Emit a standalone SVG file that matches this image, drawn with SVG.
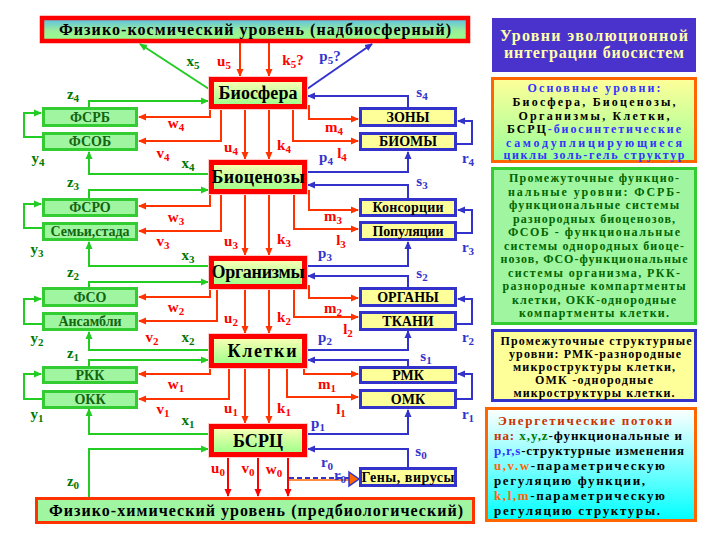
<svg xmlns="http://www.w3.org/2000/svg" width="720" height="540" viewBox="0 0 720 540">
<defs>
<linearGradient id="gLv" x1="0" y1="0" x2="0" y2="1"><stop offset="0" stop-color="#ffffb8"/><stop offset="1" stop-color="#99ff88"/></linearGradient>
<linearGradient id="gTop" x1="0" y1="0" x2="0" y2="1"><stop offset="0" stop-color="#55bbee"/><stop offset="0.55" stop-color="#99ee99"/><stop offset="1" stop-color="#99ff88"/></linearGradient>
<linearGradient id="gL2" x1="0" y1="0" x2="0" y2="1"><stop offset="0" stop-color="#ffff99"/><stop offset="1" stop-color="#99ff99"/></linearGradient>
<linearGradient id="gL5" x1="0" y1="0" x2="0" y2="1"><stop offset="0" stop-color="#ffffff"/><stop offset="1" stop-color="#00ffff"/></linearGradient>
<marker id="ag" markerUnits="userSpaceOnUse" markerWidth="8" markerHeight="8" refX="7" refY="4" orient="auto"><path d="M0,0.5 L8,4 L0,7.5 z" fill="#22cc22"/></marker>
<marker id="ar" markerUnits="userSpaceOnUse" markerWidth="8" markerHeight="8" refX="7" refY="4" orient="auto"><path d="M0,0.5 L8,4 L0,7.5 z" fill="#ff3300"/></marker>
<marker id="ar2" markerUnits="userSpaceOnUse" markerWidth="8" markerHeight="8" refX="7" refY="4" orient="auto"><path d="M0,0.5 L8,4 L0,7.5 z" fill="#ff0000"/></marker>
<marker id="ab" markerUnits="userSpaceOnUse" markerWidth="8" markerHeight="8" refX="7" refY="4" orient="auto"><path d="M0,0.5 L8,4 L0,7.5 z" fill="#3333cc"/></marker>
</defs>
<style>
text{font-family:"Liberation Serif","Times New Roman",serif;font-weight:bold}
.halo{fill:none;stroke:#ffcccc;stroke-width:7}
.lv{fill:url(#gLv);stroke:#ff0000;stroke-width:5}
.lvt{font-size:18px;text-anchor:middle;fill:#000}
.gb{fill:#a0f5a0;stroke:#33cc33;stroke-width:3}
.gt{font-size:14px;text-anchor:middle;fill:#116611}
.bb{fill:#ffff99;stroke:#3333cc;stroke-width:3}
.bt{font-size:14px;text-anchor:middle;fill:#000}
.cg{fill:none;stroke:#22cc22;stroke-width:2;marker-end:url(#ag)}
.cr{fill:none;stroke:#ff3300;stroke-width:2;marker-end:url(#ar)}
.cr2{fill:none;stroke:#ff0000;stroke-width:2;marker-end:url(#ar2)}
.cb{fill:none;stroke:#3333cc;stroke-width:2;marker-end:url(#ab)}
.lg,.lr,.lb{font-size:15px;text-anchor:middle}
.lg{fill:#007700}.lr{fill:#ff0000}.lb{fill:#3333cc}
.s{font-size:11px}
.leg{font-size:12px;text-anchor:middle}
.leg2{font-size:12px;text-anchor:middle}
.leg5{font-size:13px}
</style>
<rect width="720" height="540" fill="#ffffff"/>

<g id="connectors">
<path class="cg" d="M209,89 L140,44"/>
<path class="cb" d="M307,89 L372,44"/>
<path class="cr" d="M240,43 V76"/>
<path class="cr" d="M269,43 V76"/>
<!-- level 4 -->
<path class="cg" d="M89,107 V101 H208"/>
<path class="cr" d="M210,109 V117 H139"/>
<path class="cr" d="M221,109 V141 H139"/>
<path class="cg" d="M42,137 H24 V113 H41"/>
<path class="cg" d="M209,174 H89 V152"/>
<path class="cr" d="M309,105 V119 H358"/>
<path class="cr" d="M293,109 V141 H358"/>
<path class="cb" d="M408,107 V96 H308"/>
<path class="cb" d="M457,144 H472 V121 H458"/>
<path class="cb" d="M307,172 H408 V152"/>
<path class="cr" d="M245,109 V159"/>
<path class="cr" d="M269,109 V159"/>
<!-- level 3 -->
<path class="cg" d="M89,198 V190 H208"/>
<path class="cr" d="M210,194 V206 H139"/>
<path class="cr" d="M221,194 V231 H139"/>
<path class="cg" d="M42,228 H24 V204 H41"/>
<path class="cg" d="M209,266 H89 V242"/>
<path class="cr" d="M309,190 V210 H358"/>
<path class="cr" d="M294,194 V229 H358"/>
<path class="cb" d="M408,198 V185 H308"/>
<path class="cb" d="M457,233 H472 V210 H458"/>
<path class="cb" d="M307,266 H408 V242"/>
<path class="cr" d="M245,194 V255"/>
<path class="cr" d="M269,194 V255"/>
<!-- level 2 -->
<path class="cg" d="M89,287 V282 H208"/>
<path class="cr" d="M210,289 V297 H139"/>
<path class="cr" d="M217,289 V321 H139"/>
<path class="cg" d="M42,324 H24 V299 H41"/>
<path class="cg" d="M209,350 H89 V332"/>
<path class="cr" d="M309,285 V298 H358"/>
<path class="cr" d="M294,289 V317 H358"/>
<path class="cb" d="M408,287 V276 H308"/>
<path class="cb" d="M457,324 H472 V299 H458"/>
<path class="cb" d="M307,350 H408 V331"/>
<path class="cr" d="M245,289 V333"/>
<path class="cr" d="M269,289 V333"/>
<!-- level 1 -->
<path class="cg" d="M89,366 V360 H208"/>
<path class="cr" d="M210,368 V374 H139"/>
<path class="cr" d="M229,368 V399 H139"/>
<path class="cg" d="M42,399 H24 V374 H41"/>
<path class="cg" d="M209,434 H89 V409"/>
<path class="cr" d="M304,368 V374 H358"/>
<path class="cr" d="M287,368 V397 H358"/>
<path class="cb" d="M408,366 V360 H308"/>
<path class="cb" d="M457,399 H472 V374 H458"/>
<path class="cb" d="M307,434 H408 V410"/>
<path class="cr" d="M245,368 V423"/>
<path class="cr" d="M269,368 V423"/>
<!-- level 0 -->
<path class="cg" d="M89,497 V449 H208"/>
<path class="cr2" d="M228,457 V496"/>
<path class="cr2" d="M258,457 V496"/>
<path class="cr2" d="M288,457 V496"/>
<path class="cb" d="M408,467 V449 H308"/>
<path d="M289,480 H350" fill="none" stroke="#ff6600" stroke-width="1.5"/>
<path d="M289,478 H350" fill="none" stroke="#3333cc" stroke-width="2" stroke-dasharray="5,3"/>
</g>

<g id="top-level">
<rect x="42" y="18" width="426" height="23" fill="url(#gTop)" stroke="#ff0000" stroke-width="4.5"/>
<text x="255" y="35" font-size="16" text-anchor="middle" fill="#000" textLength="392">Физико-космический уровень (надбиосферный)</text>
</g>
<g id="bottom-level">
<rect x="36.5" y="498.5" width="437" height="24" fill="#a0f5a0" stroke="#ff3300" stroke-width="3"/>
<text x="256" y="516" font-size="16" text-anchor="middle" fill="#000" textLength="414">Физико-химический уровень (предбиологический)</text>
</g>

<g id="biosfera"><rect class="halo" x="211.5" y="79.5" width="93" height="27"/><rect class="lv" x="211.5" y="79.5" width="93" height="27"/><text class="lvt" x="258" y="99" textLength="79">Биосфера</text></g>
<g id="biocenozy"><rect class="halo" x="211.5" y="162.5" width="93" height="29"/><rect class="lv" x="211.5" y="162.5" width="93" height="29"/><text class="lvt" x="258" y="183" textLength="93">Биоценозы</text></g>
<g id="organizmy"><rect class="halo" x="211.5" y="258.5" width="93" height="28"/><rect class="lv" x="211.5" y="258.5" width="93" height="28"/><text class="lvt" x="258" y="278" textLength="93">Организмы</text></g>
<g id="kletki"><rect class="halo" x="211.5" y="336.5" width="93" height="29"/><rect class="lv" x="211.5" y="336.5" width="93" height="29"/><text class="lvt" x="262" y="357" textLength="69">Клетки</text></g>
<g id="bsrc"><rect class="halo" x="211.5" y="426.5" width="93" height="28"/><rect class="lv" x="211.5" y="426.5" width="93" height="28"/><text class="lvt" x="258" y="447" font-size="20" textLength="50">БСРЦ</text></g>

<g id="fsrb"><rect class="gb" x="43.5" y="108.5" width="93" height="17"/><text class="gt" x="90" y="122">ФСРБ</text></g>
<g id="fsob"><rect class="gb" x="43.5" y="133.5" width="93" height="16"/><text class="gt" x="90" y="146">ФСОБ</text></g>
<g id="fsro"><rect class="gb" x="43.5" y="199.5" width="93" height="16"/><text class="gt" x="90" y="212">ФСРО</text></g>
<g id="semi"><rect class="gb" x="43.5" y="223.5" width="93" height="16"/><text class="gt" x="90" y="236" font-size="13" textLength="79">Семьи,стада</text></g>
<g id="fso"><rect class="gb" x="43.5" y="288.5" width="93" height="17"/><text class="gt" x="90" y="302">ФСО</text></g>
<g id="ansambli"><rect class="gb" x="43.5" y="313.5" width="93" height="16"/><text class="gt" x="90" y="326" textLength="63">Ансамбли</text></g>
<g id="rkk"><rect class="gb" x="43.5" y="367.5" width="93" height="15"/><text class="gt" x="90" y="380">РКК</text></g>
<g id="okk"><rect class="gb" x="43.5" y="391.5" width="93" height="16"/><text class="gt" x="90" y="404">ОКК</text></g>

<g id="zony"><rect class="bb" x="360.5" y="108.5" width="95" height="17"/><text class="bt" x="408" y="122">ЗОНЫ</text></g>
<g id="biomy"><rect class="bb" x="360.5" y="133.5" width="95" height="16"/><text class="bt" x="408" y="146">БИОМЫ</text></g>
<g id="konsorcii"><rect class="bb" x="360.5" y="199.5" width="95" height="16"/><text class="bt" x="408" y="212" font-size="13" textLength="71">Консорции</text></g>
<g id="populyacii"><rect class="bb" x="360.5" y="222.5" width="95" height="17"/><text class="bt" x="408" y="236" font-size="13" textLength="71">Популяции</text></g>
<g id="organy"><rect class="bb" x="360.5" y="288.5" width="95" height="17"/><text class="bt" x="408" y="302">ОРГАНЫ</text></g>
<g id="tkani"><rect class="bb" x="360.5" y="312.5" width="95" height="17"/><text class="bt" x="408" y="326">ТКАНИ</text></g>
<g id="rmk"><rect class="bb" x="360.5" y="367.5" width="95" height="15"/><text class="bt" x="408" y="380">РМК</text></g>
<g id="omk"><rect class="bb" x="360.5" y="390.5" width="95" height="17"/><text class="bt" x="408" y="404">ОМК</text></g>
<g id="geny"><rect class="bb" x="360.5" y="468.5" width="95" height="17"/><text class="bt" x="408" y="482" textLength="93">Гены, вирусы</text></g>

<g id="labels">
<text class="lg" x="193" y="66">x<tspan class="s" dy="3">5</tspan></text>
<text class="lr" x="224" y="66">u<tspan class="s" dy="3">5</tspan></text>
<text class="lr" x="293" y="65">k<tspan class="s" dy="3">5</tspan><tspan dy="-3">?</tspan></text>
<text class="lb" x="330" y="61">p<tspan class="s" dy="3">5</tspan><tspan dy="-3">?</tspan></text>

<text class="lg" x="73" y="99">z<tspan class="s" dy="3">4</tspan></text>
<text class="lr" x="176" y="128">w<tspan class="s" dy="3">4</tspan></text>
<text class="lr" x="163" y="158">v<tspan class="s" dy="3">4</tspan></text>
<text class="lg" x="38" y="163">y<tspan class="s" dy="3">4</tspan></text>
<text class="lg" x="188" y="168">x<tspan class="s" dy="3">4</tspan></text>
<text class="lr" x="231" y="152">u<tspan class="s" dy="3">4</tspan></text>
<text class="lr" x="284" y="150">k<tspan class="s" dy="3">4</tspan></text>
<text class="lr" x="334" y="132">m<tspan class="s" dy="3">4</tspan></text>
<text class="lr" x="342" y="158">l<tspan class="s" dy="3">4</tspan></text>
<text class="lb" x="326" y="162">p<tspan class="s" dy="3">4</tspan></text>
<text class="lb" x="422" y="97">s<tspan class="s" dy="3">4</tspan></text>
<text class="lb" x="468" y="163">r<tspan class="s" dy="3">4</tspan></text>

<text class="lg" x="73" y="187">z<tspan class="s" dy="3">3</tspan></text>
<text class="lr" x="176" y="222">w<tspan class="s" dy="3">3</tspan></text>
<text class="lr" x="163" y="246">v<tspan class="s" dy="3">3</tspan></text>
<text class="lg" x="37" y="254">y<tspan class="s" dy="3">3</tspan></text>
<text class="lg" x="188" y="260">x<tspan class="s" dy="3">3</tspan></text>
<text class="lr" x="231" y="246">u<tspan class="s" dy="3">3</tspan></text>
<text class="lr" x="284" y="244">k<tspan class="s" dy="3">3</tspan></text>
<text class="lr" x="333" y="221">m<tspan class="s" dy="3">3</tspan></text>
<text class="lr" x="341" y="245">l<tspan class="s" dy="3">3</tspan></text>
<text class="lb" x="325" y="258">p<tspan class="s" dy="3">3</tspan></text>
<text class="lb" x="422" y="186">s<tspan class="s" dy="3">3</tspan></text>
<text class="lb" x="468" y="252">r<tspan class="s" dy="3">3</tspan></text>

<text class="lg" x="73" y="277">z<tspan class="s" dy="3">2</tspan></text>
<text class="lr" x="176" y="312">w<tspan class="s" dy="3">2</tspan></text>
<text class="lr" x="152" y="342">v<tspan class="s" dy="3">2</tspan></text>
<text class="lg" x="37" y="343">y<tspan class="s" dy="3">2</tspan></text>
<text class="lg" x="188" y="342">x<tspan class="s" dy="3">2</tspan></text>
<text class="lr" x="231" y="323">u<tspan class="s" dy="3">2</tspan></text>
<text class="lr" x="284" y="322">k<tspan class="s" dy="3">2</tspan></text>
<text class="lr" x="333" y="313">m<tspan class="s" dy="3">2</tspan></text>
<text class="lr" x="348" y="334">l<tspan class="s" dy="3">2</tspan></text>
<text class="lb" x="325" y="342">p<tspan class="s" dy="3">2</tspan></text>
<text class="lb" x="422" y="278">s<tspan class="s" dy="3">2</tspan></text>
<text class="lb" x="468" y="342">r<tspan class="s" dy="3">2</tspan></text>

<text class="lg" x="73" y="358">z<tspan class="s" dy="3">1</tspan></text>
<text class="lr" x="176" y="389">w<tspan class="s" dy="3">1</tspan></text>
<text class="lr" x="163" y="414">v<tspan class="s" dy="3">1</tspan></text>
<text class="lg" x="37" y="419">y<tspan class="s" dy="3">1</tspan></text>
<text class="lg" x="188" y="425">x<tspan class="s" dy="3">1</tspan></text>
<text class="lr" x="231" y="413">u<tspan class="s" dy="3">1</tspan></text>
<text class="lr" x="284" y="413">k<tspan class="s" dy="3">1</tspan></text>
<text class="lr" x="327" y="389">m<tspan class="s" dy="3">1</tspan></text>
<text class="lr" x="341" y="414">l<tspan class="s" dy="3">1</tspan></text>
<text class="lb" x="318" y="428">p<tspan class="s" dy="3">1</tspan></text>
<text class="lb" x="426" y="361">s<tspan class="s" dy="3">1</tspan></text>
<text class="lb" x="468" y="419">r<tspan class="s" dy="3">1</tspan></text>

<text class="lg" x="73" y="486">z<tspan class="s" dy="3">0</tspan></text>
<text class="lr" x="218" y="473">u<tspan class="s" dy="3">0</tspan></text>
<text class="lr" x="248" y="473">v<tspan class="s" dy="3">0</tspan></text>
<text class="lr" x="274" y="474">w<tspan class="s" dy="3">0</tspan></text>
<text class="lb" x="327" y="467">r<tspan class="s" dy="3">0</tspan></text>
<text class="lb" x="340" y="480">r<tspan class="s" dy="3">0</tspan></text>
<text class="lb" x="421" y="456">s<tspan class="s" dy="3">0</tspan></text>
</g>
<polygon points="349,472 359,479 349,486" fill="#ff6600" stroke="#3333cc" stroke-width="1.5"/>

<g id="legend-title">
<rect x="492" y="18" width="204" height="54" fill="#4a33cc"/>
<text x="594" y="41" font-size="16" text-anchor="middle" fill="#ffffaa" textLength="188">Уровни эволюционной</text>
<text x="594" y="58" font-size="16" text-anchor="middle" fill="#ffffaa" textLength="180">интеграции биосистем</text>
</g>
<g id="legend-main">
<rect x="492.5" y="78.5" width="203" height="83" fill="url(#gL2)" stroke="#ff6600" stroke-width="3"/>
<g class="leg2">
<text x="594" y="92" fill="#3333ff" textLength="133">Основные уровни:</text>
<text x="594" y="106" fill="#000" textLength="163">Биосфера, Биоценозы,</text>
<text x="594" y="119.5" fill="#000" textLength="151">Организмы, Клетки,</text>
<text x="594" y="133" fill="#000" textLength="174">БСРЦ<tspan fill="#3333ff">-биосинтетические</tspan></text>
<text x="594" y="146.5" fill="#3333ff" textLength="176">самодуплицирующиеся</text>
<text x="594" y="159" fill="#3333ff" textLength="181">циклы золь-гель структур</text>
</g>
</g>
<g id="legend-func">
<rect x="492.5" y="168.5" width="203" height="155" fill="#a0f5a0" stroke="#33cc33" stroke-width="3"/>
<g class="leg" fill="#006600">
<text x="594" y="182" textLength="170">Промежуточные функцио-</text>
<text x="594" y="195.5" textLength="172">нальные уровни: ФСРБ-</text>
<text x="594" y="209" textLength="170">функциональные системы</text>
<text x="594" y="222.5" textLength="162">разнородных биоценозов,</text>
<text x="594" y="236" textLength="172">ФСОБ - функциональные</text>
<text x="594" y="249.5" textLength="180">системы однородных биоце-</text>
<text x="594" y="263" textLength="187">нозов, ФСО-функциональные</text>
<text x="594" y="276.5" textLength="172">системы организма, РКК-</text>
<text x="594" y="290" textLength="183">разнородные компартменты</text>
<text x="594" y="303.5" textLength="164">клетки, ОКК-однородные</text>
<text x="594" y="317" textLength="150">компартменты клетки.</text>
</g>
</g>
<g id="legend-struct">
<rect x="492.5" y="330.5" width="203" height="70" fill="#ffff99" stroke="#3333cc" stroke-width="3"/>
<g class="leg" fill="#000">
<text x="596" y="345" textLength="191">Промежуточные структурные</text>
<text x="595" y="358" textLength="172">уровни: РМК-разнородные</text>
<text x="594" y="371" textLength="162">микроструктуры клетки,</text>
<text x="594" y="384" textLength="118">ОМК -однородные</text>
<text x="594" y="397" textLength="161">микроструктуры клетки.</text>
</g>
</g>
<g id="legend-flows">
<rect x="486.5" y="408.5" width="209" height="112" fill="url(#gL5)" stroke="#ff6600" stroke-width="3"/>
<g class="leg5" fill="#000">
<text x="498" y="425" fill="#cc3300" textLength="174">Энергетические потоки</text>
<text x="494" y="440" textLength="188"><tspan fill="#cc3300">на: </tspan><tspan fill="#007700">x,y,z</tspan>-функциональные и</text>
<text x="494" y="455" textLength="190"><tspan fill="#3333ff">p,r,s</tspan>-структурные изменения</text>
<text x="494" y="470" textLength="171"><tspan fill="#ff6600">u,v.w</tspan>-параметрическую</text>
<text x="494" y="485" textLength="151">регуляцию функции,</text>
<text x="494" y="500" textLength="171"><tspan fill="#ff6600">k,l,m</tspan>-параметрическую</text>
<text x="494" y="515" textLength="166">регуляцию структуры.</text>
</g>
</g>
</svg>
